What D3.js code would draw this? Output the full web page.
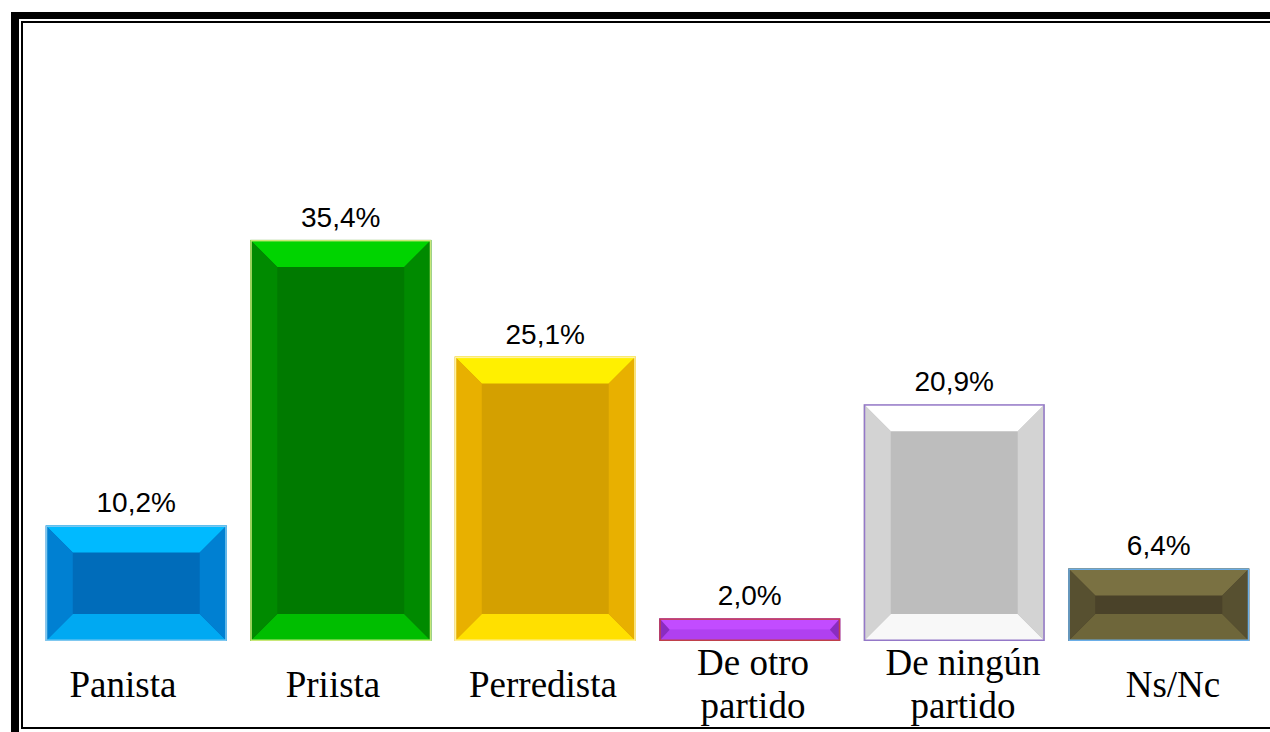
<!DOCTYPE html>
<html>
<head>
<meta charset="utf-8">
<script src="https://cdn.jsdelivr.net/npm/d3@7"></script>
<style>
  html, body { margin: 0; padding: 0; background: #fff; }
  svg { display: block; }
</style>
</head>
<body>
<figure id="bar" style="margin:0"></figure>
<script>
// data
const categories = ["Panista", "Priista", "Perredista", "De otro partido", "De ningún partido", "Ns/Nc"];
const values = [10.2, 35.4, 25.1, 2.0, 20.9, 6.4];

// bevel colours per bar: top, bottom, sides, centre, edge
const palette = [
  { top: "#00baff", bottom: "#00a9f2", side: "#0080d2", center: "#006cba", edge: "#7fc8f0" },
  { top: "#00d400", bottom: "#00be00", side: "#008a00", center: "#007a00", edge: "#c8e878" },
  { top: "#fff000", bottom: "#ffe000", side: "#e8b000", center: "#d4a000", edge: "#fff2a0" },
  { top: "#c24cff", bottom: "#b040f0", side: "#8a2cc0", center: "#a040e6", edge: "#c0404a" },
  { top: "#ffffff", bottom: "#f8f8f8", side: "#d3d3d3", center: "#bdbdbd", edge: "#9478c8" },
  { top: "#7a7142", bottom: "#6e663a", side: "#575030", center: "#4a4229", edge: "#6aaee8" }
];

const width = 1270, height = 732;
const baseline = 641;

const svg = d3.select("figure#bar")
  .append("svg")
  .attr("width", width)
  .attr("height", height);

// frame
svg.append("rect").attr("x", 11).attr("y", 12).attr("width", width).attr("height", 7).attr("fill", "#000");
svg.append("rect").attr("x", 11).attr("y", 12).attr("width", 8).attr("height", height).attr("fill", "#000");
svg.append("rect").attr("x", 21).attr("y", 21).attr("width", width).attr("height", 2).attr("fill", "#000");
svg.append("rect").attr("x", 21).attr("y", 21).attr("width", 2).attr("height", 708).attr("fill", "#000");
svg.append("rect").attr("x", 21).attr("y", 727).attr("width", width).attr("height", 2).attr("fill", "#000");

// scales
const x = d3.scaleBand()
  .domain(categories)
  .range([34, 1261])
  .paddingInner(0.115)
  .paddingOuter(0.0575);

const xLabel = d3.scaleBand()
  .domain(categories)
  .range([18, 1278]);

const y = d3.scaleLinear()
  .domain([0, 40])
  .range([baseline, baseline - 40 * 11.33]);

const fmt = d3.formatLocale({ decimal: ",", thousands: ".", grouping: [3], currency: ["", ""] }).format(".1f");

// bars
const bars = svg.selectAll("g.bar")
  .data(categories)
  .enter()
  .append("g")
  .attr("class", "bar");

bars.each(function (d, i) {
  const g = d3.select(this);
  const c = palette[i];
  const x0 = x(d), x1 = x(d) + x.bandwidth();
  const y0 = y(values[i]), y1 = y(0);
  const b = Math.min(27, (y1 - y0) / 2);
  const bx = Math.min(27, (y1 - y0) / 2 - 1);

  g.append("rect")
    .attr("x", x0).attr("y", y0)
    .attr("width", x1 - x0).attr("height", y1 - y0)
    .attr("fill", c.center);

  const poly = (pts, fill) => g.append("polygon")
    .attr("points", pts.map(p => p.join(",")).join(" "))
    .attr("fill", fill);

  poly([[x0, y0], [x1, y0], [x1 - bx, y0 + b], [x0 + bx, y0 + b]], c.top);
  poly([[x0, y1], [x1, y1], [x1 - bx, y1 - b], [x0 + bx, y1 - b]], c.bottom);
  poly([[x0, y0], [x0 + bx, y0 + b], [x0 + bx, y1 - b], [x0, y1]], c.side);
  poly([[x1, y0], [x1 - bx, y0 + b], [x1 - bx, y1 - b], [x1, y1]], c.side);

  g.append("rect")
    .attr("x", x0 + 0.75).attr("y", y0 + 0.75)
    .attr("width", x1 - x0 - 1.5).attr("height", y1 - y0 - 1.5)
    .attr("fill", "none")
    .attr("stroke", c.edge)
    .attr("stroke-width", 1.5);
});

// value labels
svg.selectAll("text.value")
  .data(categories)
  .enter()
  .append("text")
  .attr("class", "value")
  .attr("x", d => x(d) + x.bandwidth() / 2)
  .attr("y", (d, i) => y(values[i]) - 13)
  .attr("text-anchor", "middle")
  .style("font-family", "'Liberation Sans', Arial, sans-serif")
  .style("font-size", "28px")
  .attr("fill", "#000")
  .text((d, i) => fmt(values[i]) + "%");

// category labels
const labels = svg.selectAll("text.cat")
  .data(categories)
  .enter()
  .append("text")
  .attr("class", "cat")
  .attr("text-anchor", "middle")
  .style("font-family", "'Liberation Serif', 'Times New Roman', serif")
  .style("font-size", "37px")
  .attr("fill", "#000");

labels.each(function (d) {
  const words = d.split(" ");
  const lines = words.length > 2 ? [words.slice(0, 2).join(" "), words.slice(2).join(" ")] : [d];
  const cx = xLabel(d) + xLabel.bandwidth() / 2;
  const first = lines.length > 1 ? 675 : 697;
  d3.select(this).selectAll("tspan")
    .data(lines)
    .enter()
    .append("tspan")
    .attr("x", cx)
    .attr("y", (l, k) => first + k * 43)
    .text(l => l);
});
</script>
</body>
</html>
